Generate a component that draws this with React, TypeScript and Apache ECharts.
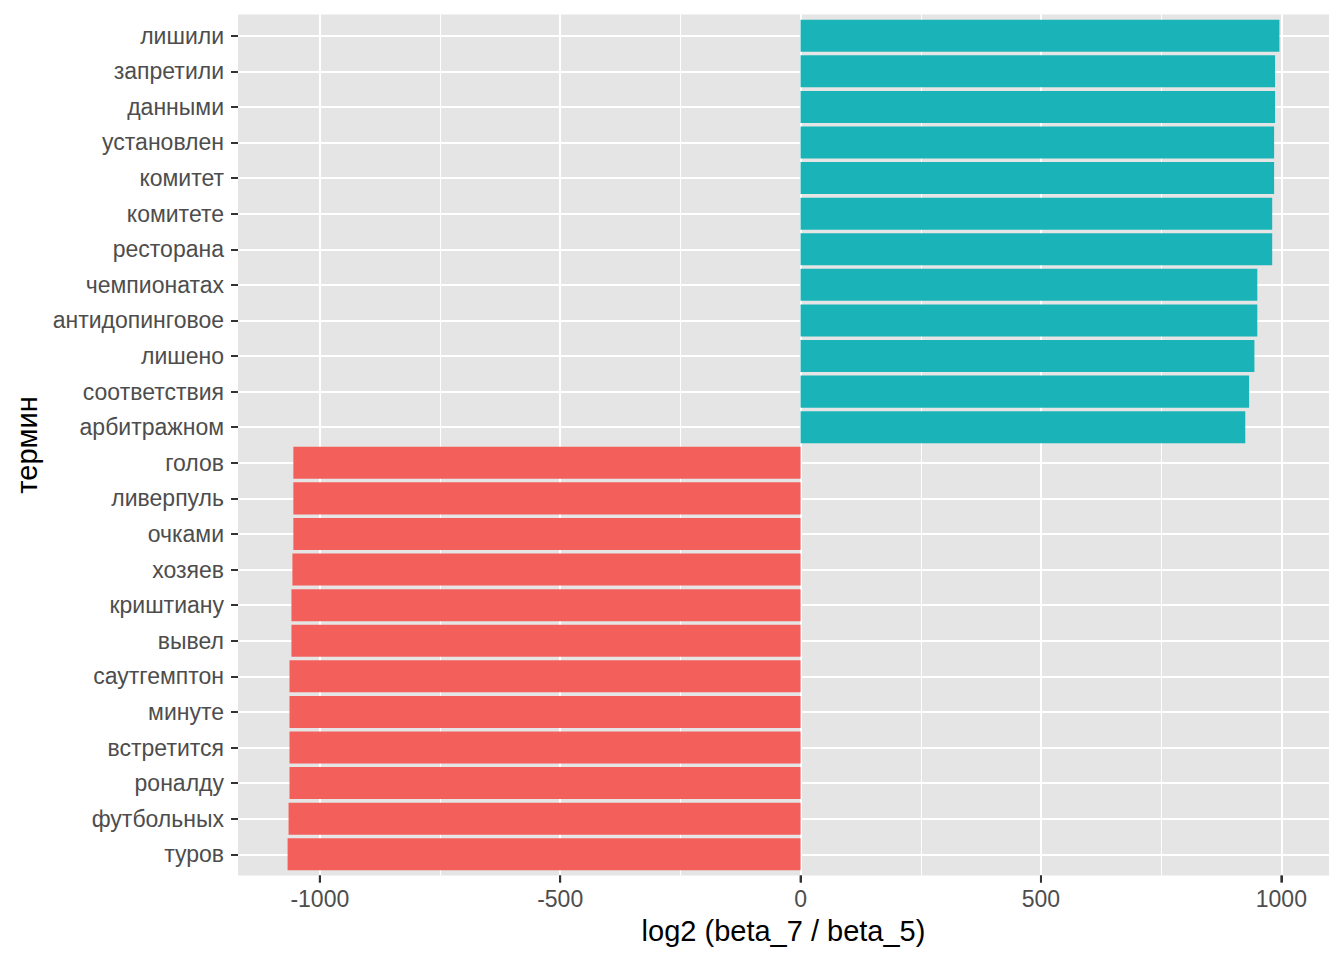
import React, { useEffect, useRef } from "react";
import * as echarts from "echarts";

// Terms, top to bottom as displayed
const terms = [
  "лишили", "запретили", "данными", "установлен", "комитет", "комитете",
  "ресторана", "чемпионатах", "антидопинговое", "лишено", "соответствия", "арбитражном",
  "голов", "ливерпуль", "очками", "хозяев", "криштиану", "вывел",
  "саутгемптон", "минуте", "встретится", "роналду", "футбольных", "туров",
];
const logRatio = [
  996, 987, 987, 985, 985, 981,
  981, 950, 950, 944, 933, 925,
  -1055, -1055, -1055, -1057, -1059, -1059,
  -1063, -1063, -1063, -1063, -1065, -1067,
];
const xTicks = [-1000, -500, 0, 500, 1000];
const xTitle = "log2 (beta_7 / beta_5)";
const yTitle = "термин";
const posColor = "#1AB4B8";
const negColor = "#F35F5B";

export default function App() {
  const ref = useRef<HTMLDivElement>(null);
  useEffect(() => {
    if (!ref.current) return;
    const chart = echarts.init(ref.current, undefined, { renderer: "svg" });
    const cats = terms.slice().reverse();
    const vals = logRatio.slice().reverse();
    const lo = Math.min(...vals);
    const hi = Math.max(...vals);
    const pad = (hi - lo) * 0.05;
    const xMin = lo - pad;
    const xMax = hi + pad;
    // ggplot discrete expansion 0.6 vs echarts 0.5 band padding
    const W = 1344;
    const H = 960;
    const gridLeft = 238;
    const gridRight = 15;
    const panelTop = 14.5;
    const panelBottom = 84.5;
    const unit = (H - panelTop - panelBottom) / (cats.length + 1.2);
    const font = "'Liberation Sans', Arial, Helvetica, sans-serif";

    // x-axis tick marks placed on the same linear mapping as the value axis
    const plotW = W - gridLeft - gridRight;
    const yBase = H - panelBottom;
    const tickEls = xTicks.map((v) => {
      const px = gridLeft + ((v - xMin) / (xMax - xMin)) * plotW;
      return {
        type: "rect", silent: true, z: 100, zlevel: 2,
        shape: { x: px - 1, y: yBase, width: 2, height: 7 },
        style: { fill: "#333333" },
      };
    });

    chart.setOption({
      animation: false,
      backgroundColor: "#FFFFFF",
      grid: [
        { left: gridLeft, right: gridRight, top: panelTop, bottom: panelBottom, show: true, backgroundColor: "#E5E5E5", borderWidth: 0, containLabel: false },
        { left: gridLeft, right: gridRight, top: panelTop + 0.1 * unit, bottom: panelBottom + 0.1 * unit, containLabel: false },
      ],
      xAxis: [
        {
          type: "value", gridIndex: 0, min: xMin, max: xMax, position: "bottom",
          axisLine: { show: false, onZero: false },
          axisTick: { show: true, inside: false, length: 7, customValues: xTicks, lineStyle: { color: "#333333", width: 2 } },
          axisLabel: { show: true, customValues: xTicks, margin: 12, color: "#4D4D4D", fontSize: 23, fontFamily: font, formatter: (v: number) => String(v) },
          splitLine: { show: true, lineStyle: { color: "#FFFFFF", width: 2 } },
          minorTick: { show: false, splitNumber: 2 },
          minorSplitLine: { show: true, lineStyle: { color: "#FFFFFF", width: 1 } },
          name: xTitle, nameLocation: "middle", nameGap: 41,
          nameTextStyle: { color: "#000000", fontSize: 29, fontFamily: font },
        },
        {
          type: "value", gridIndex: 1, min: xMin, max: xMax, show: false,
          splitLine: { show: false },
        },
      ],
      yAxis: [
        { type: "value", gridIndex: 0, show: false, min: 0, max: 1, splitLine: { show: false }, axisLine: { onZero: false } },
        {
          type: "category", gridIndex: 1, data: cats, position: "left",
          axisLine: { show: false, onZero: false },
          axisTick: { show: true, alignWithLabel: true, length: 7, lineStyle: { color: "#333333", width: 2 } },
          axisLabel: { margin: 14, color: "#4D4D4D", fontSize: 23, fontFamily: font, interval: 0 },
          splitLine: { show: true, alignWithLabel: true, interval: 0, lineStyle: { color: "#FFFFFF", width: 2 } },
          name: yTitle, nameLocation: "middle", nameGap: 194, nameRotate: 90,
          nameTextStyle: { color: "#000000", fontSize: 29, fontFamily: font },
        },
      ],
      graphic: { elements: tickEls },
      series: [
        {
          type: "bar", xAxisIndex: 1, yAxisIndex: 1, barWidth: "90%",
          data: vals.map((v) => ({ value: v, itemStyle: { color: v >= 0 ? posColor : negColor } })),
        },
      ],
    });
    return () => chart.dispose();
  }, []);
  return <div ref={ref} style={{ position: "fixed", left: 0, top: 0, width: 1344, height: 960 }} />;
}
